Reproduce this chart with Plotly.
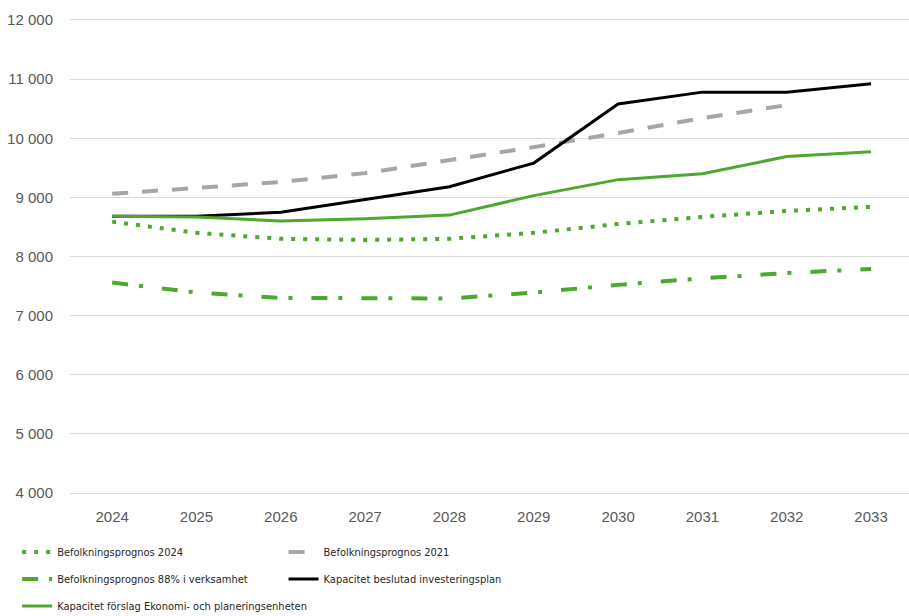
import plotly.graph_objects as go

years = ["2024", "2025", "2026", "2027", "2028", "2029", "2030", "2031", "2032", "2033"]

befolkning_2024 = [8590, 8400, 8300, 8280, 8300, 8400, 8550, 8670, 8770, 8840]
befolkning_2021 = [9060, 9160, 9260, 9410, 9630, 9850, 10090, 10340, 10560, None]
befolkning_88 = [7560, 7390, 7300, 7290, 7290, 7390, 7520, 7630, 7720, 7790]
kapacitet_beslutad = [8680, 8680, 8750, 8960, 9180, 9580, 10580, 10780, 10780, 10920]
kapacitet_forslag = [8680, 8670, 8600, 8640, 8700, 9030, 9300, 9400, 9690, 9770]

GREEN = "#4EA72E"
GRAY = "#A6A6A6"

fig = go.Figure()
fig.add_trace(go.Scatter(x=years, y=befolkning_2024, mode="lines", name="Befolkningsprognos 2024",
                         line=dict(color=GREEN, width=4, dash="4px,8px"), legend="legend", legendgroup="a"))
fig.add_trace(go.Scatter(x=years, y=befolkning_2021, mode="lines", name="Befolkningsprognos 2021",
                         line=dict(color=GRAY, width=4, dash="16px,14px"), legend="legend2", legendgroup="b"))
fig.add_trace(go.Scatter(x=years, y=befolkning_88, mode="lines", name="Befolkningsprognos 88% i verksamhet",
                         line=dict(color=GREEN, width=4, dash="16px,11px,4px,19px"), legend="legend", legendgroup="c"))
fig.add_trace(go.Scatter(x=years, y=kapacitet_beslutad, mode="lines", name="Kapacitet beslutad investeringsplan",
                         line=dict(color="#000000", width=3), legend="legend2", legendgroup="d"))
fig.add_trace(go.Scatter(x=years, y=kapacitet_forslag, mode="lines", name="Kapacitet förslag Ekonomi- och planeringsenheten",
                         line=dict(color=GREEN, width=3), legend="legend", legendgroup="e"))

legend_font = dict(family="DejaVu Sans Condensed, Liberation Sans, sans-serif", size=11, color="#262626")

fig.update_layout(
    width=909, height=616,
    margin=dict(l=70, r=0, t=20, b=123, autoexpand=False),
    plot_bgcolor="white", paper_bgcolor="white",
    separators=", ",
    font=dict(family="Liberation Sans, Arial, sans-serif", size=15, color="#595959"),
    xaxis=dict(range=[-0.5, 9.45], showgrid=False, zeroline=False,
               showline=True, mirror=True, linecolor="#D9D9D9", linewidth=1,
               ticks="", ticklabelstandoff=10, fixedrange=True, automargin=False),
    yaxis=dict(range=[4000, 12000], dtick=1000, tickformat=",d", showgrid=True,
               gridcolor="#D9D9D9", gridwidth=1, zeroline=False, showline=False,
               ticks="", ticklabelstandoff=16, automargin=False),
    legend=dict(x=-0.063, xanchor="left", y=-0.094, yanchor="top", orientation="v",
                font=legend_font, tracegroupgap=8, bgcolor="rgba(0,0,0,0)"),
    legend2=dict(x=0.2545, xanchor="left", y=-0.094, yanchor="top", orientation="v",
                 font=legend_font, tracegroupgap=8, bgcolor="rgba(0,0,0,0)"),
    showlegend=True,
)

fig.write_html("out.html", config={"displayModeBar": False},
               post_script="document.body.style.margin='0';document.body.style.padding='0';")
